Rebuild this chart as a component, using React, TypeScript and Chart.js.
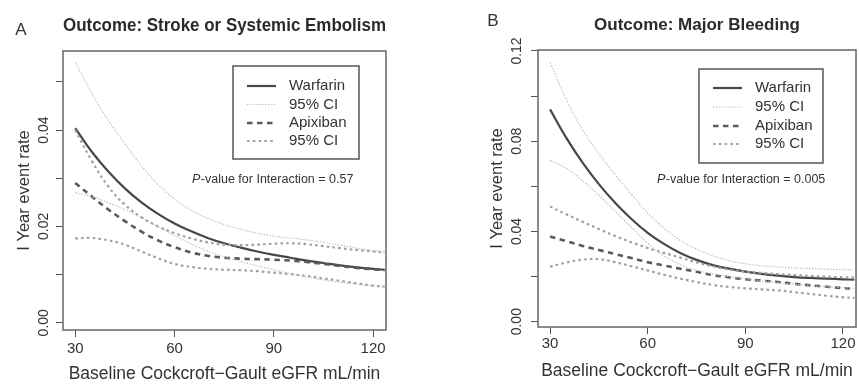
import React, { useEffect, useRef } from 'react';
import { Chart, registerables } from 'chart.js';

Chart.register(...registerables);

const FONT = '"Liberation Sans", Arial, Helvetica, sans-serif';

// ---------------- data ----------------
const eGFR = [30, 35, 40, 45, 50, 55, 60, 65, 70, 75, 80, 85, 90, 95, 100, 105, 110, 115, 120, 123.5];

// Panel A: Stroke or Systemic Embolism
const strokeWarfarin = [0.0404, 0.0355, 0.0314, 0.0279, 0.0250, 0.0226, 0.0206, 0.0190, 0.0176, 0.0165, 0.0156, 0.0148, 0.0141, 0.0135, 0.0129, 0.0124, 0.0119, 0.0115, 0.0112, 0.0110];
const strokeWarfarinUpper = [0.0541, 0.0476, 0.0420, 0.0372, 0.0326, 0.0287, 0.0257, 0.0234, 0.0217, 0.0204, 0.0194, 0.0186, 0.0180, 0.0176, 0.0172, 0.0167, 0.0161, 0.0155, 0.0150, 0.0147];
const strokeWarfarinLower = [0.0270, 0.0262, 0.0249, 0.0235, 0.0218, 0.0199, 0.0181, 0.0164, 0.0149, 0.0137, 0.0127, 0.0118, 0.0110, 0.0102, 0.0095, 0.0089, 0.0084, 0.0080, 0.0077, 0.0075];
const strokeApixaban = [0.0290, 0.0262, 0.0235, 0.0211, 0.0189, 0.0171, 0.0157, 0.0146, 0.0139, 0.0135, 0.0133, 0.0132, 0.0131, 0.0129, 0.0126, 0.0122, 0.0118, 0.0114, 0.0111, 0.0109];
const strokeApixabanUpper = [0.0400, 0.0336, 0.0283, 0.0245, 0.0219, 0.0200, 0.0186, 0.0175, 0.0167, 0.0162, 0.0161, 0.0162, 0.0164, 0.0165, 0.0163, 0.0159, 0.0155, 0.0151, 0.0148, 0.0146];
const strokeApixabanLower = [0.0175, 0.0176, 0.0171, 0.0162, 0.0148, 0.0134, 0.0122, 0.0116, 0.0112, 0.0110, 0.0109, 0.0107, 0.0104, 0.0101, 0.0097, 0.0092, 0.0087, 0.0082, 0.0077, 0.0075];

// Panel B: Major Bleeding
const bleedWarfarin = [0.0941, 0.0815, 0.0705, 0.0610, 0.0527, 0.0455, 0.0394, 0.0345, 0.0305, 0.0274, 0.0251, 0.0235, 0.0222, 0.0212, 0.0204, 0.0198, 0.0194, 0.0191, 0.0188, 0.0186];
const bleedWarfarinUpper = [0.1150, 0.0985, 0.0850, 0.0745, 0.0652, 0.0565, 0.0482, 0.0414, 0.0361, 0.0322, 0.0292, 0.0271, 0.0257, 0.0248, 0.0243, 0.0239, 0.0236, 0.0233, 0.0231, 0.0230];
const bleedWarfarinLower = [0.0715, 0.0680, 0.0625, 0.0560, 0.0490, 0.0418, 0.0348, 0.0292, 0.0253, 0.0228, 0.0212, 0.0200, 0.0190, 0.0181, 0.0173, 0.0166, 0.0160, 0.0155, 0.0151, 0.0148];
const bleedApixaban = [0.0378, 0.0357, 0.0336, 0.0318, 0.0300, 0.0282, 0.0264, 0.0249, 0.0235, 0.0221, 0.0207, 0.0197, 0.0188, 0.0182, 0.0176, 0.0168, 0.0161, 0.0155, 0.0149, 0.0146];
const bleedApixabanUpper = [0.0511, 0.0476, 0.0443, 0.0411, 0.0380, 0.0352, 0.0327, 0.0305, 0.0284, 0.0263, 0.0245, 0.0231, 0.0222, 0.0216, 0.0211, 0.0207, 0.0203, 0.0200, 0.0197, 0.0195];
const bleedApixabanLower = [0.0244, 0.0262, 0.0275, 0.0277, 0.0264, 0.0246, 0.0227, 0.0208, 0.0191, 0.0176, 0.0163, 0.0154, 0.0148, 0.0143, 0.0139, 0.0131, 0.0123, 0.0115, 0.0108, 0.0105];

// text
const legendLabels = ['Warfarin', '95% CI', 'Apixiban', '95% CI'];
const xAxisTitle = 'Baseline Cockcroft\u2212Gault eGFR mL/min';
const yAxisTitle = 'I Year event rate';
const pValueA = '0.57';
const pValueB = '0.005';

// ---------------- styles ----------------
const styles = {
  warfarin: { color: '#474747', width: 2.2, dash: [] as number[] },
  warfarinCI: { color: '#c2c2c2', width: 1.2, dash: [1.5, 1.5] },
  apixaban: { color: '#5a5a5a', width: 2.6, dash: [5.5, 4.5] },
  apixabanCI: { color: '#a0a0a0', width: 2.2, dash: [2.6, 3.2] },
};

function makeDatasets(w: number[], wu: number[], wl: number[], a: number[], au: number[], al: number[]) {
  const pts = (arr: number[]) => eGFR.map((x, i) => ({ x, y: arr[i] }));
  const ds = (label: string, arr: number[], st: any, legendRank: number) => ({
    label,
    data: pts(arr),
    borderColor: st.color,
    borderWidth: st.width,
    borderDash: st.dash,
    pointRadius: 0,
    fill: false,
    tension: 0.4,
    legendRank,
  });
  return [
    ds(legendLabels[1], wu, styles.warfarinCI, 1),
    ds(legendLabels[1], wl, styles.warfarinCI, -1),
    ds(legendLabels[3], au, styles.apixabanCI, 3),
    ds(legendLabels[3], al, styles.apixabanCI, -1),
    ds(legendLabels[2], a, styles.apixaban, 2),
    ds(legendLabels[0], w, styles.warfarin, 0),
  ];
}

// ---------------- decoration plugin (box, rotated y labels, legend, annotation) ----------------
const decorPlugin = {
  id: 'rDecor',
  afterDraw(chart: any, _args: any, opts: any) {
    const ctx = chart.ctx;
    const { left, top, right, bottom } = chart.chartArea;
    ctx.save();
    // plot box
    ctx.setLineDash([]);
    ctx.strokeStyle = '#6e6e6e';
    ctx.lineWidth = 1.6;
    ctx.strokeRect(left, top, right - left, bottom - top);

    // rotated y tick labels
    const ys = chart.scales.y;
    ctx.fillStyle = '#333';
    ctx.font = `14px ${FONT}`;
    ys.ticks.forEach((t: any) => {
      if (!t.label) return;
      const py = ys.getPixelForValue(t.value);
      ctx.save();
      ctx.translate(opts.yLabelX, py);
      ctx.rotate(-Math.PI / 2);
      ctx.textAlign = 'center';
      ctx.textBaseline = 'middle';
      ctx.fillText(t.label, 0, 0);
      ctx.restore();
    });

    // panel letter
    ctx.font = `17px ${FONT}`;
    ctx.textAlign = 'center';
    ctx.textBaseline = 'middle';
    ctx.fillStyle = '#333';
    ctx.fillText(opts.letter, opts.letterX, opts.letterY);

    // legend
    const lg = opts.legend;
    ctx.strokeStyle = '#555';
    ctx.lineWidth = 1.5;
    ctx.strokeRect(lg.x1, lg.y1, lg.x2 - lg.x1, lg.y2 - lg.y1);
    const items = chart.data.datasets
      .filter((d: any) => d.legendRank >= 0)
      .sort((a: any, b: any) => a.legendRank - b.legendRank);
    items.forEach((d: any, i: number) => {
      const y = lg.rows[i];
      ctx.beginPath();
      ctx.setLineDash(d.borderDash || []);
      ctx.strokeStyle = d.borderColor;
      ctx.lineWidth = d.borderWidth;
      ctx.moveTo(lg.sx1, y);
      ctx.lineTo(lg.sx2, y);
      ctx.stroke();
      ctx.setLineDash([]);
      ctx.fillStyle = '#333';
      ctx.font = `15px ${FONT}`;
      ctx.textAlign = 'left';
      ctx.textBaseline = 'middle';
      ctx.fillText(d.label, lg.tx, y);
    });

    // p-value annotation
    ctx.fillStyle = '#333';
    ctx.textAlign = 'left';
    ctx.textBaseline = 'middle';
    ctx.font = `italic 12.5px ${FONT}`;
    ctx.fillText('P', opts.pX, opts.pY);
    const w = ctx.measureText('P').width;
    ctx.font = `12.5px ${FONT}`;
    ctx.fillText(`-value for Interaction = ${opts.pValue}`, opts.pX + w + 0.5, opts.pY);
    ctx.restore();
  },
};

function Panel({ cfg }: { cfg: any }) {
  const ref = useRef<HTMLCanvasElement>(null);
  useEffect(() => {
    const labelStep = cfg.yLabelStep;
    const chart = new Chart(ref.current as HTMLCanvasElement, {
      type: 'line',
      data: { datasets: cfg.datasets },
      options: {
        responsive: false,
        animation: false,
        devicePixelRatio: 1,
        events: [],
        layout: { padding: { left: 0, right: cfg.padRight, top: 0, bottom: 0 } },
        plugins: {
          legend: { display: false },
          tooltip: { enabled: false },
          title: {
            display: true,
            text: cfg.title,
            fullSize: false,
            color: '#2b2b2b',
            font: { family: FONT, size: cfg.titleSize, weight: 'bold' },
            padding: { top: cfg.titlePadTop, bottom: cfg.titlePadBottom },
          },
          rDecor: cfg.decor,
        },
        scales: {
          x: {
            type: 'linear',
            min: cfg.xMin,
            max: cfg.xMax,
            afterFit: (s: any) => { s.height = cfg.xAxisHeight; },
            ticks: {
              stepSize: 30,
              includeBounds: false,
              autoSkip: false,
              maxRotation: 0,
              color: '#333',
              padding: cfg.xTickPad,
              font: { family: FONT, size: 15 },
              callback: (v: any) => String(v),
            },
            grid: { display: true, drawOnChartArea: false, drawTicks: true, tickLength: 7, color: '#555', lineWidth: 1 },
            border: { display: false },
            title: {
              display: true,
              text: xAxisTitle,
              color: '#333',
              font: { family: FONT, size: 17.5 },
              padding: { top: 0, bottom: cfg.xTitlePadBottom },
            },
          },
          y: {
            type: 'linear',
            min: cfg.yMin,
            max: cfg.yMax,
            afterFit: (s: any) => { s.width = cfg.yAxisWidth; },
            ticks: {
              stepSize: cfg.yStep,
              includeBounds: false,
              autoSkip: false,
              color: 'rgba(0,0,0,0)',
              font: { family: FONT, size: 14 },
              callback: (v: any) => {
                const r = v / labelStep;
                return Math.abs(r - Math.round(r)) < 1e-6 ? Number(v).toFixed(2) : '';
              },
            },
            grid: { display: true, drawOnChartArea: false, drawTicks: true, tickLength: 7, color: '#555', lineWidth: 1 },
            border: { display: false },
            title: {
              display: true,
              text: yAxisTitle,
              color: '#333',
              font: { family: FONT, size: 16.5 },
              padding: { top: cfg.yTitlePadTop, bottom: 0 },
            },
          },
        },
      } as any,
      plugins: [decorPlugin as any],
    });
    return () => chart.destroy();
  }, []);
  return (
    <canvas
      ref={ref}
      width={cfg.width}
      height={386}
      style={{ position: 'absolute', left: cfg.left, top: 0, width: cfg.width, height: 386 }}
    />
  );
}

const panelA = {
  left: 0,
  width: 430,
  padRight: 44,
  title: 'Outcome: Stroke or Systemic Embolism',
  titleSize: 17.5,
  titlePadTop: 15.8,
  titlePadBottom: 14.2,
  xMin: 26.3,
  xMax: 123.9,
  yMin: -0.0015,
  yMax: 0.0564,
  yStep: 0.01,
  yLabelStep: 0.02,
  xAxisHeight: 56,
  xTickPad: 3,
  xTitlePadBottom: 1.4,
  yAxisWidth: 63,
  yTitlePadTop: 15,
  datasets: makeDatasets(strokeWarfarin, strokeWarfarinUpper, strokeWarfarinLower, strokeApixaban, strokeApixabanUpper, strokeApixabanLower),
  decor: {
    yLabelX: 44,
    letter: 'A',
    letterX: 21,
    letterY: 30.5,
    legend: { x1: 233, y1: 66, x2: 359, y2: 159, sx1: 247, sx2: 276, tx: 289, rows: [86, 104.5, 123, 141] },
    pX: 192,
    pY: 180,
    pValue: pValueA,
  },
};

const panelB = {
  left: 430,
  width: 429,
  padRight: 3,
  title: 'Outcome: Major Bleeding',
  titleSize: 17,
  titlePadTop: 14.8,
  titlePadBottom: 14.8,
  xMin: 26.3,
  xMax: 124.0,
  yMin: -0.00235,
  yMax: 0.12044,
  yStep: 0.02,
  yLabelStep: 0.04,
  xAxisHeight: 59,
  xTickPad: 0.5,
  xTitlePadBottom: 3.9,
  yAxisWidth: 108,
  yTitlePadTop: 58,
  datasets: makeDatasets(bleedWarfarin, bleedWarfarinUpper, bleedWarfarinLower, bleedApixaban, bleedApixabanUpper, bleedApixabanLower),
  decor: {
    yLabelX: 87,
    letter: 'B',
    letterX: 63,
    letterY: 21,
    legend: { x1: 269, y1: 69, x2: 393, y2: 163, sx1: 283, sx2: 312, tx: 325, rows: [88, 107, 126, 144] },
    pX: 227,
    pY: 180,
    pValue: pValueB,
  },
};

export default function App() {
  return (
    <div style={{ position: 'fixed', left: 0, top: 0, width: 859, height: 386, background: '#fff', overflow: 'hidden' }}>
      <Panel cfg={panelA} />
      <Panel cfg={panelB} />
    </div>
  );
}
